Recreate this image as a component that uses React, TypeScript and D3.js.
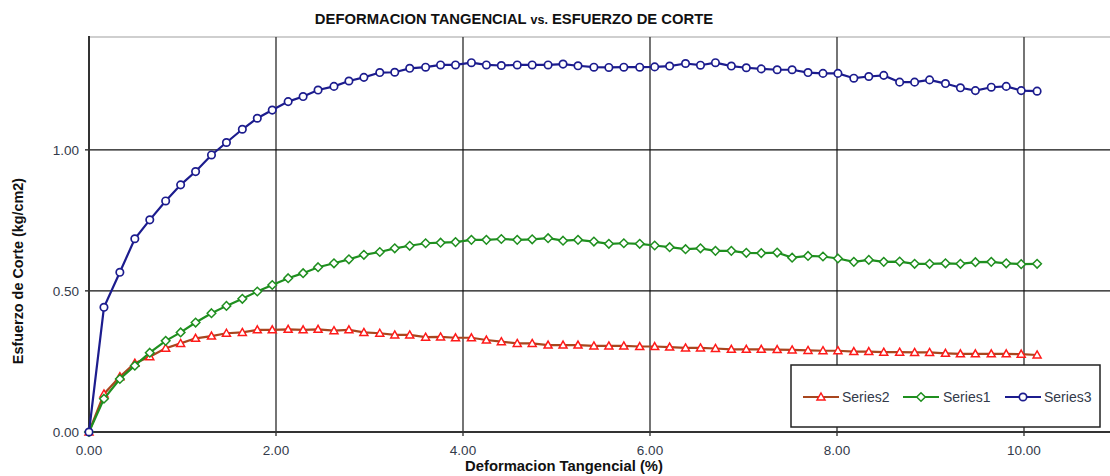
import * as React from 'react';
import * as d3 from 'd3';

// deformacion tangencial (%)
const deformation = [
  0, 0.16, 0.33, 0.49, 0.65, 0.82, 0.98, 1.14, 1.31, 1.47, 1.64, 1.8, 1.96, 2.13, 2.29, 2.45,
  2.62, 2.78, 2.94, 3.11, 3.27, 3.43, 3.6, 3.76, 3.92, 4.09, 4.25, 4.41, 4.58, 4.74, 4.91,
  5.07, 5.23, 5.4, 5.56, 5.72, 5.89, 6.05, 6.21, 6.38, 6.54, 6.7, 6.87, 7.03, 7.19, 7.36,
  7.52, 7.69, 7.85, 8.01, 8.18, 8.34, 8.5, 8.67, 8.83, 8.99, 9.16, 9.32, 9.48, 9.65, 9.81,
  9.97, 10.14,
];

const series2 = [
  0, 0.135, 0.196, 0.244, 0.267, 0.297, 0.314, 0.332, 0.34, 0.35, 0.353, 0.362, 0.362, 0.364,
  0.362, 0.364, 0.359, 0.362, 0.353, 0.35, 0.344, 0.344, 0.336, 0.337, 0.334, 0.334, 0.326,
  0.32, 0.314, 0.314, 0.308, 0.308, 0.308, 0.305, 0.305, 0.305, 0.303, 0.303, 0.301, 0.298,
  0.298, 0.296, 0.293, 0.293, 0.293, 0.292, 0.291, 0.289, 0.288, 0.288, 0.285, 0.285, 0.283,
  0.283, 0.282, 0.282, 0.279, 0.277, 0.277, 0.277, 0.277, 0.276, 0.273,
];

const series1 = [
  0, 0.118, 0.188, 0.235, 0.281, 0.323, 0.353, 0.388, 0.421, 0.447, 0.472, 0.498, 0.521,
  0.545, 0.563, 0.584, 0.598, 0.612, 0.628, 0.638, 0.651, 0.66, 0.669, 0.671, 0.673, 0.681,
  0.681, 0.684, 0.681, 0.683, 0.687, 0.678, 0.681, 0.675, 0.667, 0.669, 0.667, 0.661, 0.655,
  0.648, 0.651, 0.642, 0.642, 0.635, 0.634, 0.636, 0.618, 0.624, 0.622, 0.615, 0.603, 0.61,
  0.603, 0.604, 0.596, 0.596, 0.598, 0.596, 0.602, 0.603, 0.598, 0.595, 0.596,
];

const series3 = [
  0, 0.442, 0.566, 0.685, 0.752, 0.819, 0.876, 0.923, 0.982, 1.026, 1.073, 1.112, 1.141,
  1.171, 1.189, 1.212, 1.225, 1.244, 1.257, 1.274, 1.275, 1.289, 1.293, 1.301, 1.301, 1.309,
  1.301, 1.299, 1.301, 1.301, 1.301, 1.304, 1.298, 1.293, 1.292, 1.293, 1.293, 1.294, 1.297,
  1.306, 1.3, 1.309, 1.297, 1.291, 1.287, 1.284, 1.284, 1.274, 1.271, 1.271, 1.254, 1.26,
  1.264, 1.24, 1.24, 1.248, 1.235, 1.22, 1.21, 1.222, 1.225, 1.21, 1.208,
];

const xTicks = [0, 2, 4, 6, 8, 10];
const yTicks = [0, 0.5, 1.0];

const W = 1110;
const H = 476;
const margin = { top: 37, bottom: 44, left: 89 };

const font = '"Liberation Sans", Arial, sans-serif';

type Shape = 'triangle' | 'diamond' | 'circle';

const seriesDefs: { name: string; values: number[]; line: string; marker: string; shape: Shape }[] = [
  { name: 'Series2', values: series2, line: '#a8461e', marker: '#ff1a1a', shape: 'triangle' },
  { name: 'Series1', values: series1, line: '#1f8f1f', marker: '#1f8f1f', shape: 'diamond' },
  { name: 'Series3', values: series3, line: '#1c1c8e', marker: '#1c1c8e', shape: 'circle' },
];

function Marker({ x, y, shape, color }: { x: number; y: number; shape: Shape; color: string }) {
  if (shape === 'circle') {
    return <circle cx={x} cy={y} r={3.7} fill="#fff" stroke={color} strokeWidth={1.7} />;
  }
  if (shape === 'diamond') {
    const s = 4.3;
    return (
      <path
        d={`M${x},${y - s}L${x + s},${y}L${x},${y + s}L${x - s},${y}Z`}
        fill="#fff"
        stroke={color}
        strokeWidth={1.5}
      />
    );
  }
  const s = 4;
  return (
    <path
      d={`M${x},${y - s}L${x + s},${y + s * 0.75}L${x - s},${y + s * 0.75}Z`}
      fill="#fff"
      stroke={color}
      strokeWidth={1.5}
    />
  );
}

export default function App() {
  const x = d3
    .scaleLinear()
    .domain([0, 11])
    .range([margin.left, margin.left + 11 * 93.5]);
  const y = d3
    .scaleLinear()
    .domain([0, 1.4])
    .range([H - margin.bottom, margin.top]);

  const line = d3
    .line<number>()
    .x((_, i) => x(deformation[i]))
    .y(d => y(d));

  const x0 = x(0);
  const y0 = y(0);
  const yTop = y(1.4);

  const legend = { x: 791, y: 365, w: 309, h: 62 };
  const legendItems = [
    { lx: 803, tx: 842 },
    { lx: 903, tx: 943 },
    { lx: 1005, tx: 1044 },
  ];

  return (
    <div style={{ position: 'absolute', left: 0, top: 0 }}>
      <svg width={W} height={H} style={{ display: 'block', background: '#fff' }}>
        {/* top border */}
        <line x1={x0} x2={W} y1={yTop} y2={yTop} stroke="#cfcfcf" strokeWidth={2} />

        {/* vertical grid */}
        {xTicks
          .filter(t => t > 0)
          .map(t => (
            <line key={`vx${t}`} x1={x(t)} x2={x(t)} y1={yTop} y2={y0 + 4} stroke="#3a3a3a" strokeWidth={1.4} />
          ))}
        {/* horizontal grid */}
        {yTicks
          .filter(t => t > 0)
          .map(t => (
            <line key={`hy${t}`} x1={x0 - 4} x2={W} y1={y(t)} y2={y(t)} stroke="#111" strokeWidth={1.2} />
          ))}

        {/* axes */}
        <line x1={x0} x2={x0} y1={yTop - 1} y2={y0 + 4} stroke="#333" strokeWidth={2} />
        <line x1={x0 - 4} x2={W} y1={y0} y2={y0} stroke="#333" strokeWidth={2} />

        {/* tick labels */}
        {xTicks.map(t => (
          <text
            key={`xl${t}`}
            x={x(t)}
            y={y0 + 23}
            textAnchor="middle"
            fontFamily={font}
            fontSize={13.5}
            fill="#333a4a"
          >
            {t.toFixed(2)}
          </text>
        ))}
        {yTicks.map(t => (
          <text
            key={`yl${t}`}
            x={x0 - 10}
            y={y(t) + 5}
            textAnchor="end"
            fontFamily={font}
            fontSize={13.5}
            fill="#333a4a"
          >
            {t.toFixed(2)}
          </text>
        ))}

        {/* series */}
        {seriesDefs.map(s => (
          <g key={s.name}>
            <path d={line(s.values) || ''} fill="none" stroke={s.line} strokeWidth={2.2} />
            {s.values.map((v, i) => (
              <Marker key={i} x={x(deformation[i])} y={y(v)} shape={s.shape} color={s.marker} />
            ))}
          </g>
        ))}

        {/* titles */}
        <text x={514} y={24} textAnchor="middle" fontFamily={font} fontSize={14.8} fontWeight="bold" fill="#111">
          DEFORMACION TANGENCIAL <tspan fontSize={12.5}>vs.</tspan> ESFUERZO DE CORTE
        </text>
        <text x={564} y={471} textAnchor="middle" fontFamily={font} fontSize={14.8} fontWeight="bold" fill="#111">
          Deformacion Tangencial (%)
        </text>
        <text
          transform={`translate(23,271) rotate(-90)`}
          textAnchor="middle"
          fontFamily={font}
          fontSize={14.4}
          fontWeight="bold"
          fill="#111"
        >
          Esfuerzo de Corte (kg/cm2)
        </text>

        {/* legend */}
        <rect x={legend.x} y={legend.y} width={legend.w} height={legend.h} fill="#fff" stroke="#222" strokeWidth={1.5} />
        {seriesDefs.map((s, i) => {
          const it = legendItems[i];
          const cy = 397;
          return (
            <g key={`lg${s.name}`}>
              <line x1={it.lx} x2={it.lx + 36} y1={cy} y2={cy} stroke={s.line} strokeWidth={2.2} />
              <Marker x={it.lx + 18} y={cy} shape={s.shape} color={s.marker} />
              <text x={it.tx} y={cy + 5} fontFamily={font} fontSize={14} fill="#333a4a">
                {s.name}
              </text>
            </g>
          );
        })}
      </svg>
    </div>
  );
}
